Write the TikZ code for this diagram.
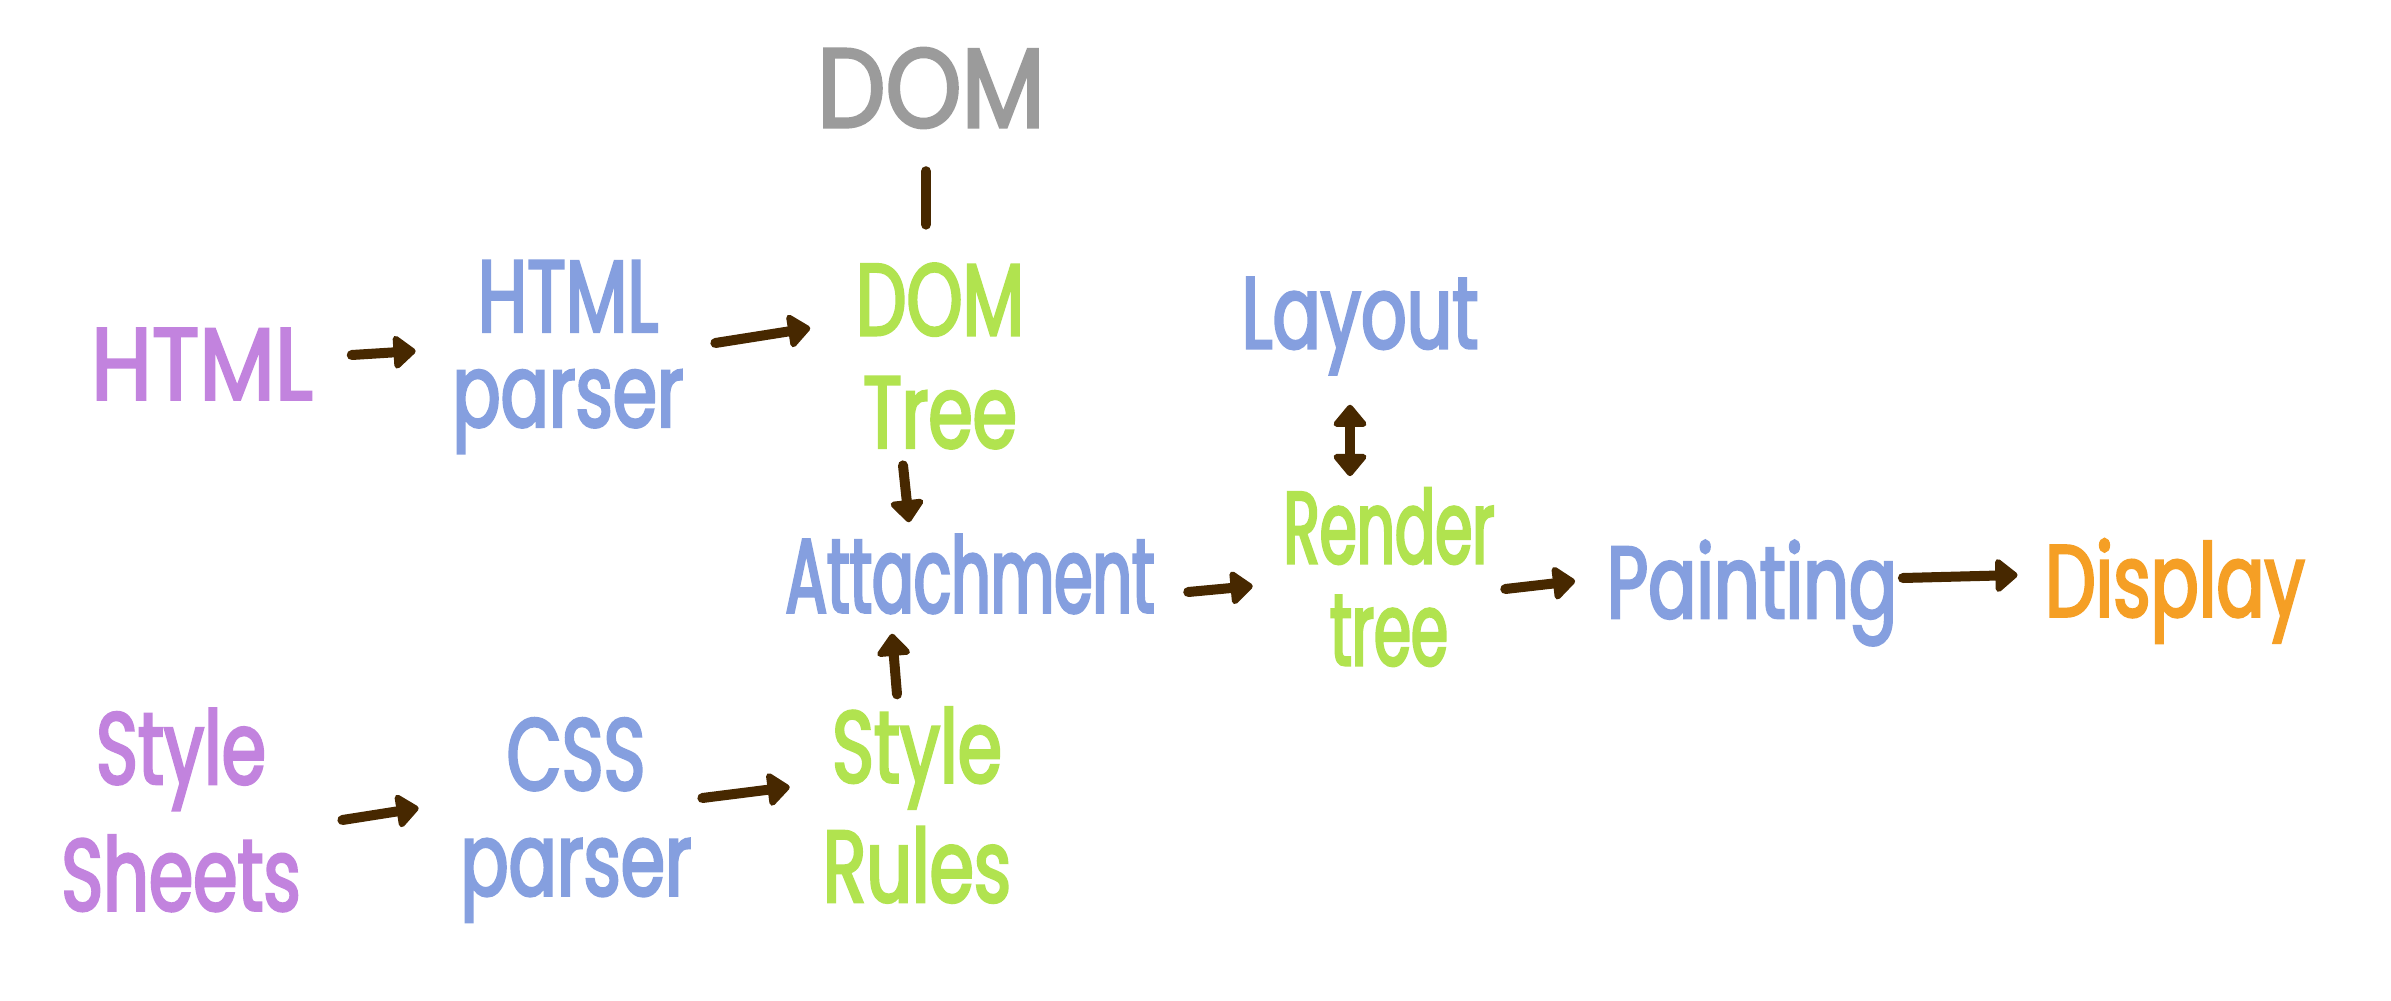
\documentclass[tikz,border=0pt]{standalone}
\usepackage{fontspec}
\setmainfont[FakeStretch=0.70,FakeBold=2.5]{Poppins}
\newfontfamily\fnarrow[FakeStretch=0.585,FakeBold=2.5]{Poppins}
\newfontfamily\fwide[FakeStretch=0.86,FakeBold=2.5]{Poppins}
\usetikzlibrary{arrows.meta,calc}
\definecolor{cpurple}{HTML}{C283DE}
\definecolor{cblue}{HTML}{859FDF}
\definecolor{cgreen}{HTML}{B1E34F}
\definecolor{cgray}{HTML}{9B9B9B}
\definecolor{corange}{HTML}{F59F25}
\definecolor{cbrown}{HTML}{472800}
\begin{document}
\begin{tikzpicture}[x=0.01cm,y=-0.01cm,
  lbl/.style={inner sep=0pt, align=center, font=\fontsize{29}{32}\selectfont},
  conn/.style={draw=cbrown, line width=0.1cm, line cap=round, line join=round},
  tip/.tip={Triangle[round,length=0.24cm,width=0.38cm]},
  arr/.style={conn, -tip},
  darr/.style={conn, tip-tip}]
\fill[white] (0,0) rectangle (2391,1000);
\useasboundingbox (0,0) rectangle (2391,1000);

\node[lbl, text=cgray, minimum width=2.06cm, minimum height=0.91cm, font=\fwide\fontsize{32}{36}\selectfont] (domtop) at (931,88) {DOM};
\node[lbl, text=cgreen, minimum width=1.94cm, minimum height=1.78cm, font=\fontsize{29}{32}\selectfont] (domtree) at (940,356) {DOM\\Tree};
\node[lbl, text=cpurple, minimum width=2.36cm, minimum height=0.72cm, font=\fwide\fontsize{29}{32}\selectfont] (html) at (202,364) {HTML};
\node[lbl, text=cblue, minimum width=2.06cm, minimum height=1.71cm, font=\fontsize{29}{27}\selectfont] (htmlparser) at (568,357) {HTML\\parser};
\node[lbl, text=cblue, minimum width=2.13cm, minimum height=1.10cm] (layout) at (1360,326) {Layout};
\node[lbl, text=cblue, minimum width=3.48cm, minimum height=0.96cm, font=\fnarrow\fontsize{30}{32}\selectfont] (attach) at (970,574) {Attachment};
\node[lbl, text=cgreen, minimum width=2.17cm, minimum height=1.63cm, font=\fnarrow\fontsize{29}{29}\selectfont] (render) at (1389,577) {Render\\tree};
\node[lbl, text=cblue, minimum width=2.79cm, minimum height=1.40cm] (paint) at (1752,593) {Painting};
\node[lbl, text=corange, minimum width=2.55cm, minimum height=1.36cm] (display) at (2175,591) {Display};
\node[lbl, text=cpurple, minimum width=2.17cm, minimum height=1.86cm, font=\fontsize{29}{36}\selectfont] (sheets) at (181,810) {Style\\Sheets};
\node[lbl, text=cblue, minimum width=2.06cm, minimum height=1.91cm, font=\fontsize{29}{30}\selectfont] (css) at (576,820) {CSS\\parser};
\node[lbl, text=cgreen, minimum width=2.03cm, minimum height=1.83cm, font=\fontsize{29}{34}\selectfont] (rules) at (917,805) {Style\\Rules};

\draw[conn] ($(domtop.south)+(-5,37)$) -- ($(domtree.north)+(-14,-38)$);
\draw[arr] ($(html.east)+(31,-9)$) -- ($(htmlparser.west)+(-36,-6)$);
\draw[arr] ($(htmlparser.east)+(31,-14)$) -- ($(domtree.west)+(-32,-28)$);
\draw[arr] ($(domtree.south)+(-37,16)$) -- ($(attach.north)+(-61,-3)$);
\draw[arr] ($(rules.north)+(-20,-12)$) -- ($(attach.south)+(-78,11)$);
\draw[arr] ($(attach.east)+(33,18)$) -- ($(render.west)+(-27,9)$);
\draw[darr] ($(layout.south)+(-10,23)$) -- ($(render.north)+(-39,-11)$);
\draw[arr] ($(render.east)+(7,12)$) -- ($(paint.west)+(-31,-12)$);
\draw[arr] ($(paint.east)+(5,-15)$) -- ($(display.west)+(-27,-16)$);
\draw[arr] ($(sheets.east)+(41,10)$) -- ($(css.west)+(-41,-12)$);
\draw[arr] ($(css.east)+(10,-22)$) -- ($(rules.west)+(-25,-18)$);
\end{tikzpicture}
\end{document}
